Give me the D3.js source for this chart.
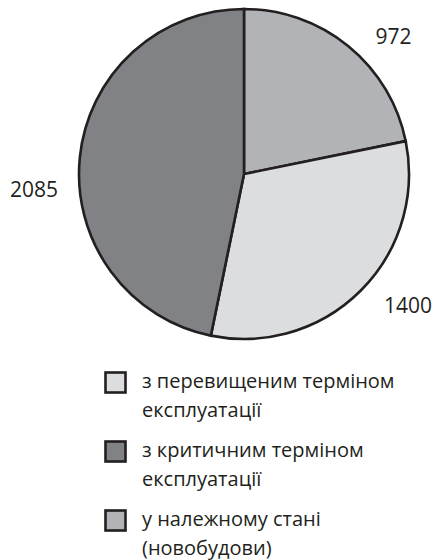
<!DOCTYPE html>
<html>
<head>
<meta charset="utf-8">
<script src="https://cdn.jsdelivr.net/npm/d3@7"></script>
<style>
  html, body { margin: 0; padding: 0; background: #fff; }
  svg text { font-family: "Open Sans", "Noto Sans", sans-serif; fill: #231f20; }
</style>
</head>
<body>
<svg id="chart" width="435" height="560"></svg>
<script>
// Housing stock by condition (clockwise from 12 o'clock)
const categories = ["good", "overdue", "critical"];
const values = [972, 1400, 2085];
const fills = ["#b1b3b6", "#dcdddf", "#808285"];

// Legend entries (order as listed), each split over two lines
const legendOrder = ["overdue", "critical", "good"];
const legendLines = {
  overdue: ["з перевищеним терміном", "експлуатації"],
  critical: ["з критичним терміном", "експлуатації"],
  good: ["у належному стані", "(новобудови)"]
};

const svg = d3.select("#chart");
const cx = 244, cy = 174, r = 165;
const stroke = "#231f20";

const data = categories.map((c, i) => ({ key: c, value: values[i], fill: fills[i] }));
const pie = d3.pie().sort(null).value(d => d.value);
const arcs = pie(data);
const arc = d3.arc().innerRadius(0).outerRadius(r);

const g = svg.append("g").attr("transform", `translate(${cx},${cy})`);

g.selectAll("path.slice")
  .data(arcs)
  .join("path")
  .attr("class", "slice")
  .attr("d", arc)
  .attr("fill", d => d.data.fill)
  .attr("stroke", stroke)
  .attr("stroke-width", 2.6)
  .attr("stroke-linejoin", "miter");

// Value labels outside the pie, along each slice's mid-angle
const labelArc = d3.arc().innerRadius(208).outerRadius(208);
const labelShift = { good: [18, 24], overdue: [17, -16], critical: [-3, 37] };
g.selectAll("text.val")
  .data(arcs)
  .join("text")
  .attr("class", "val")
  .attr("x", d => labelArc.centroid(d)[0] + labelShift[d.data.key][0])
  .attr("y", d => labelArc.centroid(d)[1] + labelShift[d.data.key][1])
  .attr("text-anchor", "middle")
  .attr("dy", "0.35em")
  .attr("font-size", 21)
  .text(d => d.data.value);

// Legend
const fillByKey = Object.fromEntries(data.map(d => [d.key, d.fill]));
const legendY = d3.scaleBand().domain(legendOrder).range([388, 595]);
const lineGap = 29;
const lg = svg.append("g");
const items = lg.selectAll("g.item")
  .data(legendOrder)
  .join("g")
  .attr("class", "item")
  .attr("transform", d => `translate(0,${legendY(d)})`);

items.append("rect")
  .attr("x", 105.5)
  .attr("y", -15.5)
  .attr("width", 20)
  .attr("height", 20)
  .attr("fill", d => fillByKey[d])
  .attr("stroke", stroke)
  .attr("stroke-width", 2.6);

items.each(function(d) {
  const t = d3.select(this).append("text")
    .attr("x", 142)
    .attr("font-size", 20);
  legendLines[d].forEach((line, i) => {
    t.append("tspan").attr("x", 142).attr("y", i * lineGap).text(line);
  });
});
</script>
</body>
</html>
